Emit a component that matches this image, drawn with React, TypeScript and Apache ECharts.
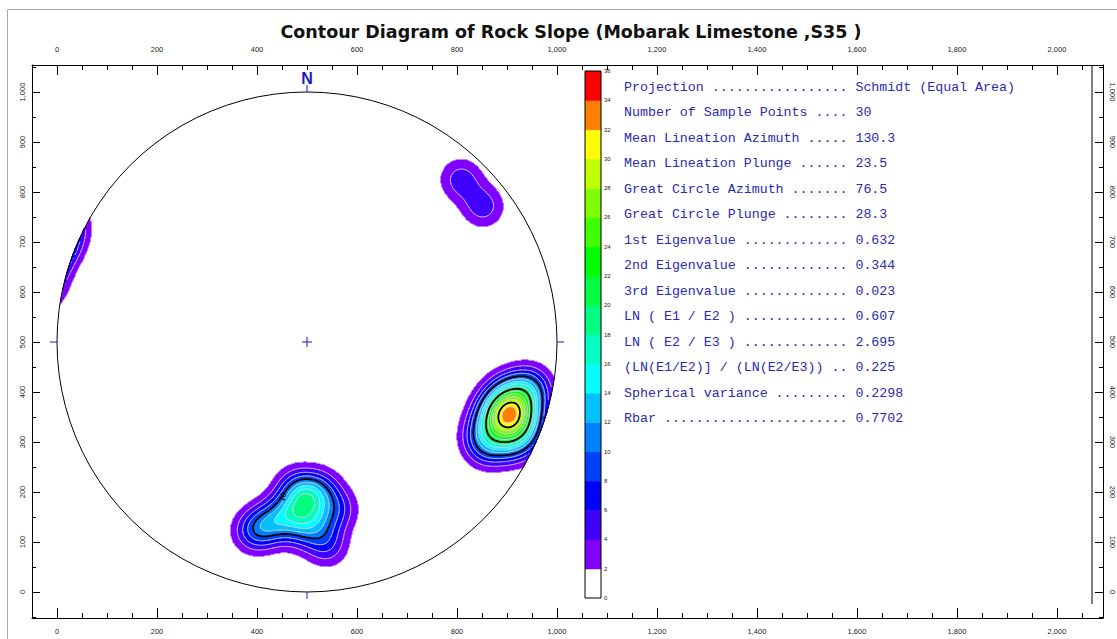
import { useEffect, useRef } from 'react';
import * as echarts from 'echarts';

// ---------------------------------------------------------------------------
// Data
// ---------------------------------------------------------------------------
const TITLE = 'Contour Diagram of Rock Slope (Mobarak Limestone ,S35 )';

// Poles plotted on the equal-area net (net units: 0..1000, centre 500,500, radius 500)
const polesSE: [number, number][] = [
  [858, 288], [851, 315], [897, 300], [879, 330], [925, 300], [869, 356],
  [906, 341], [889, 359], [929, 345], [891, 373], [919, 371], [895, 397],
  [944, 377], [926, 405], [950, 413], [935, 330],
];
const polesS: [number, number][] = [
  [502, 190], [496, 176], [528, 205], [478, 210], [466, 160], [440, 145],
  [414, 131], [392, 120], [520, 135], [488, 128], [540, 92], [560, 165],
];
const polesNE: [number, number][] = [
  [808, 825], [852, 771],
];

// Density scale (contour interval 2)
const levelBreaks = [0, 2, 4, 6, 8, 10, 12, 14, 16, 18, 20, 22, 24, 26, 28, 30, 32, 34, 36];
const levelColors = [
  '#ffffff', '#8000ff', '#4000ff', '#0000ff', '#0040ff', '#0080ff', '#00c0ff', '#00ffff', '#00ffc0',
  '#00ff80', '#00ff40', '#00ff00', '#40ff00', '#80ff00', '#c0ff00', '#ffff00', '#ff8000', '#ff0000',
];
const boldLevels = [10, 20, 30];
const contourLabels: { text: string; x: number; y: number; rotate: number }[] = [
  { text: '10', x: 452, y: 190, rotate: 70 },
];

const xMajorTicks = [0, 200, 400, 600, 800, 1000, 1200, 1400, 1600, 1800, 2000];
const yMajorTicks = [0, 100, 200, 300, 400, 500, 600, 700, 800, 900, 1000];

const statNames = [
  'Projection',
  'Number of Sample Points',
  'Mean Lineation Azimuth',
  'Mean Lineation Plunge',
  'Great Circle Azimuth',
  'Great Circle Plunge',
  '1st Eigenvalue',
  '2nd Eigenvalue',
  '3rd Eigenvalue',
  'LN ( E1 / E2 )',
  'LN ( E2 / E3 )',
  '(LN(E1/E2)] / (LN(E2/E3))',
  'Spherical variance',
  'Rbar',
];
const statValues = [
  'Schmidt (Equal Area)', '30', '130.3', '23.5', '76.5', '28.3', '0.632', '0.344', '0.023',
  '0.607', '2.695', '0.225', '0.2298', '0.7702',
];

// ---------------------------------------------------------------------------
// Net geometry and density estimation
// ---------------------------------------------------------------------------
const NET_C = 500;
const NET_R = 500;
const KERNEL_SIGMA = 30;
const POLE_WEIGHT = 5;
const STEP = 2;
const NODES = 1000 / STEP + 1;

const X_MIN = -50;
const X_MAX = 2092;
const Y_MIN = -52;
const Y_MAX = 1054;

function buildField(): Float32Array {
  const all = [...polesSE, ...polesS, ...polesNE];
  const pts: number[] = [];
  for (const [x, y] of all) {
    pts.push(x, y);
    // points near the primitive wrap round to the opposite side of the net
    const dx = x - NET_C;
    const dy = y - NET_C;
    const r = Math.hypot(dx, dy);
    if (r > 1e-6) {
      const f = -(2 * NET_R - r) / r;
      pts.push(NET_C + dx * f, NET_C + dy * f);
    }
  }
  const inv = 1 / (2 * KERNEL_SIGMA * KERNEL_SIGMA);
  const cut = (6 * KERNEL_SIGMA) ** 2;
  const field = new Float32Array(NODES * NODES);
  for (let j = 0; j < NODES; j++) {
    const y = j * STEP;
    for (let i = 0; i < NODES; i++) {
      const x = i * STEP;
      let s = 0;
      for (let p = 0; p < pts.length; p += 2) {
        const ddx = x - pts[p];
        const ddy = y - pts[p + 1];
        const d2 = ddx * ddx + ddy * ddy;
        if (d2 < cut) s += POLE_WEIGHT * Math.exp(-d2 * inv);
      }
      field[j * NODES + i] = s;
    }
  }
  return field;
}

function buildFillRuns(field: Float32Array): number[][] {
  const runs: number[][] = levelColors.map(() => []);
  const half = STEP / 2;
  for (let k = 1; k < levelColors.length; k++) {
    const t = levelBreaks[k];
    const out = runs[k];
    for (let j = 0; j < NODES; j++) {
      const y = j * STEP;
      const dy = y - NET_C;
      let start = -1;
      for (let i = 0; i <= NODES; i++) {
        let on = false;
        if (i < NODES) {
          const dx = i * STEP - NET_C;
          on = dx * dx + dy * dy <= NET_R * NET_R && field[j * NODES + i] >= t;
        }
        if (on && start < 0) start = i;
        if (!on && start >= 0) {
          out.push(start * STEP - half, (i - 1) * STEP + half, y - half, y + half);
          start = -1;
        }
      }
    }
  }
  return runs;
}

function marching(field: Float32Array, level: number, sub: number, out: number[]) {
  const n = Math.floor((NODES - 1) / sub) + 1;
  const st = STEP * sub;
  const v = (i: number, j: number) => field[j * sub * NODES + i * sub];
  const lim = (NET_R - st) * (NET_R - st);
  for (let j = 0; j < n - 1; j++) {
    for (let i = 0; i < n - 1; i++) {
      const x = i * st;
      const y = j * st;
      const mx = x + st / 2 - NET_C;
      const my = y + st / 2 - NET_C;
      if (mx * mx + my * my > lim) continue;
      const a = v(i, j);
      const b = v(i + 1, j);
      const c = v(i + 1, j + 1);
      const d = v(i, j + 1);
      let idx = 0;
      if (a >= level) idx |= 1;
      if (b >= level) idx |= 2;
      if (c >= level) idx |= 4;
      if (d >= level) idx |= 8;
      if (idx === 0 || idx === 15) continue;
      const B = [x + (st * (level - a)) / (b - a), y];
      const R = [x + st, y + (st * (level - b)) / (c - b)];
      const T = [x + (st * (level - d)) / (c - d), y + st];
      const L = [x, y + (st * (level - a)) / (d - a)];
      const seg = (p: number[], q: number[]) => out.push(p[0], p[1], q[0], q[1]);
      switch (idx) {
        case 1: case 14: seg(B, L); break;
        case 2: case 13: seg(B, R); break;
        case 3: case 12: seg(L, R); break;
        case 4: case 11: seg(R, T); break;
        case 6: case 9: seg(B, T); break;
        case 7: case 8: seg(L, T); break;
        case 5: seg(B, L); seg(R, T); break;
        case 10: seg(B, R); seg(L, T); break;
        default: break;
      }
    }
  }
}

const field = buildField();
const fillRuns = buildFillRuns(field);
const thinSegs: number[] = [];
const boldSegs: number[] = [];
for (let k = 2; k < levelBreaks.length - 1; k++) {
  const lv = levelBreaks[k];
  if (boldLevels.includes(lv)) marching(field, lv, 2, boldSegs);
  else marching(field, lv, 2, thinSegs);
}

// ---------------------------------------------------------------------------
// Chart option
// ---------------------------------------------------------------------------
const withCommas = (v: number) => String(v).replace(/\B(?=(\d{3})+(?!\d))/g, ',');
const AXIS_FONT = { fontFamily: 'Liberation Sans', fontSize: 7.5, color: '#222' };
const BLUE = '#1c1cc0';

function minorList(min: number, max: number, step: number) {
  const out: number[] = [];
  for (let v = Math.ceil(min / step) * step; v <= max; v += step) out.push(v);
  return out;
}
const xMinor = minorList(X_MIN, X_MAX, 50);
const yMinor = minorList(Y_MIN, Y_MAX, 50);

function axis(
  kind: 'x' | 'y',
  gridIndex: number,
  position: string,
  ticks: number[],
  tickLen: number,
  label: boolean,
  rotate: number,
  margin: number,
  line: boolean,
) {
  return {
    type: 'value',
    gridIndex,
    position,
    min: kind === 'x' ? X_MIN : Y_MIN,
    max: kind === 'x' ? X_MAX : Y_MAX,
    axisLine: { show: line, onZero: false, lineStyle: { color: '#000', width: 1 } },
    axisTick: { show: true, inside: true, length: tickLen, customValues: ticks, lineStyle: { color: '#000', width: 1 } },
    axisLabel: {
      show: label,
      customValues: ticks,
      formatter: (v: number) => withCommas(v),
      rotate,
      margin,
      ...AXIS_FONT,
    },
    splitLine: { show: false },
  };
}

function toPx(api: any) {
  const o = api.coord([0, 0]);
  const e = api.coord([1000, 1000]);
  const sx = (e[0] - o[0]) / 1000;
  const sy = (e[1] - o[1]) / 1000;
  return (x: number, y: number) => [o[0] + x * sx, o[1] + y * sy];
}

function buildOption(): any {
  const statLines = statNames.map(
    (name, i) => `${name} ${'.'.repeat(Math.max(2, 27 - name.length))} ${statValues[i]}`,
  );

  return {
    animation: false,
    backgroundColor: '#fff',
    grid: [
      { left: 32, right: 14, top: 65, bottom: 21 },
      { left: 32, right: 14, top: 65, bottom: 21 },
      { left: 585, top: 71, width: 16, height: 527 },
    ],
    xAxis: [
      axis('x', 0, 'bottom', xMajorTicks, 10, true, 0, 9, true),
      axis('x', 0, 'top', xMajorTicks, 10, true, 0, 12, true),
      axis('x', 1, 'bottom', xMinor, 5, false, 0, 0, false),
      axis('x', 1, 'top', xMinor, 5, false, 0, 0, false),
      { type: 'value', gridIndex: 2, min: 0, max: 1, show: false },
    ],
    yAxis: [
      axis('y', 0, 'left', yMajorTicks, 8, true, 90, 6, true),
      axis('y', 0, 'right', yMajorTicks, 8, true, -90, 5, true),
      axis('y', 1, 'left', yMinor, 4, false, 0, 0, false),
      axis('y', 1, 'right', yMinor, 4, false, 0, 0, false),
      {
        type: 'value', gridIndex: 2, position: 'right', min: 0, max: 36, interval: 2,
        axisLine: { show: false }, axisTick: { show: false }, splitLine: { show: false },
        axisLabel: { margin: 3, fontFamily: 'Liberation Sans', fontSize: 6, color: '#222' },
      },
    ],
    graphic: [
      {
        type: 'rect', silent: true, z: -10,
        shape: { x: 7.5, y: 9.5, width: 1200, height: 700 },
        style: { fill: 'none', stroke: '#a8a8a8', lineWidth: 1 },
      },
      {
        type: 'text', x: 571, y: 32,
        style: {
          text: TITLE, fill: '#111', font: 'bold 17.5px "DejaVu Sans"',
          align: 'center', verticalAlign: 'middle', textAlign: 'center', textVerticalAlign: 'middle',
        },
      },
      {
        type: 'line', silent: true,
        shape: { x1: 1092, y1: 66, x2: 1092, y2: 604 },
        style: { stroke: '#000', lineWidth: 1 },
      },
      ...statLines.map((t, i) => ({
        type: 'text', x: 624, y: 87 + i * 25.5,
        style: {
          text: t, fill: '#2a2ab4', font: '13.3px "Liberation Mono"',
          verticalAlign: 'middle', textVerticalAlign: 'middle',
        },
      })),
    ],
    series: [
      {
        type: 'custom', name: 'density', xAxisIndex: 0, yAxisIndex: 0, silent: true, z: 1,
        data: levelColors.map((_, k) => [k, 0]).slice(1),
        renderItem: (_p: any, api: any) => {
          const k = api.value(0);
          const runs = fillRuns[k];
          if (!runs || runs.length === 0) return null;
          const px = toPx(api);
          let d = '';
          for (let n = 0; n < runs.length; n += 4) {
            const a = px(runs[n], runs[n + 3]);
            const b = px(runs[n + 1], runs[n + 2]);
            d += `M${a[0].toFixed(2)} ${a[1].toFixed(2)}H${b[0].toFixed(2)}V${b[1].toFixed(2)}H${a[0].toFixed(2)}Z`;
          }
          return { type: 'path', shape: { pathData: d }, style: { fill: levelColors[k] } };
        },
      },
      {
        type: 'custom', name: 'contours', xAxisIndex: 0, yAxisIndex: 0, silent: true, z: 2,
        data: [[0, 0], [1, 0]],
        renderItem: (p: any, api: any) => {
          const bold = p.dataIndex === 1;
          const segs = bold ? boldSegs : thinSegs;
          if (segs.length === 0) return null;
          const px = toPx(api);
          let d = '';
          for (let n = 0; n < segs.length; n += 4) {
            const a = px(segs[n], segs[n + 1]);
            const b = px(segs[n + 2], segs[n + 3]);
            d += `M${a[0].toFixed(2)} ${a[1].toFixed(2)}L${b[0].toFixed(2)} ${b[1].toFixed(2)}`;
          }
          return {
            type: 'path', shape: { pathData: d },
            style: bold
              ? { fill: 'none', stroke: '#000', lineWidth: 1.8, lineCap: 'round', lineJoin: 'round' }
              : { fill: 'none', stroke: 'rgba(214,204,246,0.9)', lineWidth: 0.8, lineCap: 'round' },
          };
        },
      },
      {
        type: 'custom', name: 'net', xAxisIndex: 0, yAxisIndex: 0, silent: true, z: 3,
        data: [[NET_C, NET_C]],
        renderItem: (_p: any, api: any) => {
          const px = toPx(api);
          const c = px(NET_C, NET_C);
          const r = px(NET_C + NET_R, NET_C)[0] - c[0];
          const mark = (x1: number, y1: number, x2: number, y2: number) => {
            const a = px(x1, y1);
            const b = px(x2, y2);
            return {
              type: 'line', shape: { x1: a[0], y1: a[1], x2: b[0], y2: b[1] },
              style: { stroke: BLUE, lineWidth: 1 },
            };
          };
          const nPos = px(NET_C, NET_C + NET_R + 28);
          return {
            type: 'group',
            children: [
              { type: 'circle', shape: { cx: c[0], cy: c[1], r }, style: { fill: 'none', stroke: '#000', lineWidth: 1 } },
              mark(NET_C, NET_C + NET_R, NET_C, NET_C + NET_R + 14),
              mark(NET_C, NET_C - NET_R, NET_C, NET_C - NET_R - 14),
              mark(NET_C - NET_R, NET_C, NET_C - NET_R - 14, NET_C),
              mark(NET_C + NET_R, NET_C, NET_C + NET_R + 14, NET_C),
              mark(NET_C - 10, NET_C, NET_C + 10, NET_C),
              mark(NET_C, NET_C - 10, NET_C, NET_C + 10),
              {
                type: 'text', x: nPos[0], y: nPos[1],
                style: {
                  text: 'N', fill: BLUE, font: 'bold 16px "Liberation Sans"',
                  align: 'center', verticalAlign: 'middle', textAlign: 'center', textVerticalAlign: 'middle',
                },
              },
              ...contourLabels.map((l) => {
                const q = px(l.x, l.y);
                return {
                  type: 'text', x: q[0], y: q[1], rotation: (l.rotate * Math.PI) / 180,
                  style: {
                    text: l.text, fill: '#000', font: '8px "Liberation Sans"',
                    align: 'center', verticalAlign: 'middle', textAlign: 'center', textVerticalAlign: 'middle',
                  },
                };
              }),
            ],
          };
        },
      },
      {
        type: 'custom', name: 'scale', xAxisIndex: 4, yAxisIndex: 4, silent: true, z: 3,
        data: levelColors.map((_, k) => [k, levelBreaks[k], levelBreaks[k + 1]]),
        renderItem: (p: any, api: any) => {
          const k = p.dataIndex;
          const top = api.coord([0, api.value(2)]);
          const bot = api.coord([1, api.value(1)]);
          const children: any[] = [
            {
              type: 'rect',
              shape: { x: top[0], y: top[1], width: bot[0] - top[0], height: bot[1] - top[1] + 0.5 },
              style: { fill: levelColors[k] },
            },
          ];
          if (k === levelColors.length - 1) {
            const lo = api.coord([0, 0]);
            const hi = api.coord([1, 36]);
            children.push({
              type: 'rect',
              shape: { x: lo[0], y: hi[1], width: hi[0] - lo[0], height: lo[1] - hi[1] },
              style: { fill: 'none', stroke: '#000', lineWidth: 1 },
              z2: 10,
            });
          }
          return { type: 'group', children };
        },
      },
    ],
  };
}

export default function App() {
  const ref = useRef<HTMLDivElement>(null);
  useEffect(() => {
    if (!ref.current) return undefined;
    const chart = echarts.init(ref.current, undefined, { renderer: 'svg' });
    chart.setOption(buildOption());
    return () => chart.dispose();
  }, []);
  return (
    <div
      ref={ref}
      style={{ position: 'fixed', left: 0, top: 0, width: 1117, height: 639, background: '#fff' }}
    />
  );
}
